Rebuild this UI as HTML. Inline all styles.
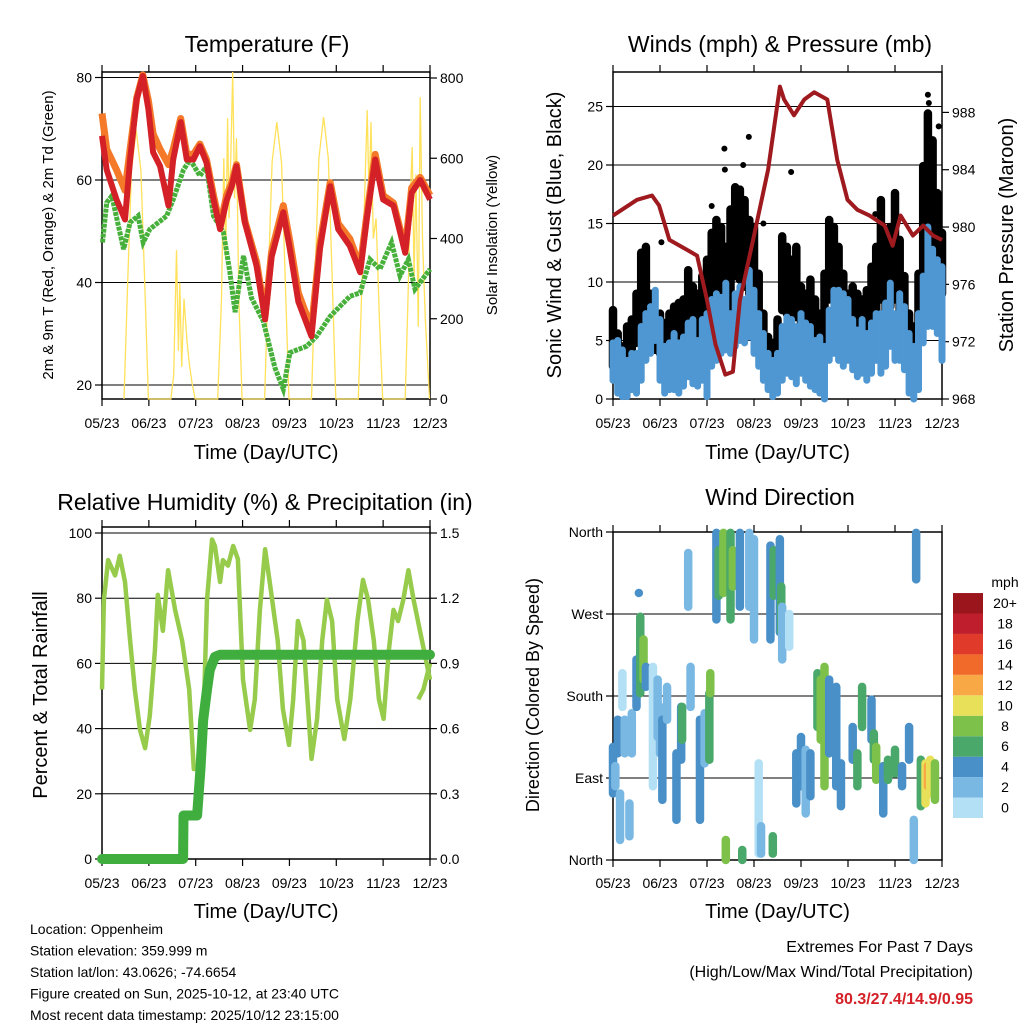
<!DOCTYPE html>
<html><head><meta charset="utf-8"><style>
html,body{margin:0;padding:0;background:#fff}
svg{display:block;font-family:"Liberation Sans",Arial,sans-serif}
</style></head><body>
<svg id="chart" xmlns="http://www.w3.org/2000/svg" width="1024" height="1024" viewBox="0 0 1024 1024"></svg>
<script>
// ---------- DATA ----------
const xTickLabels = ["05/23","06/23","07/23","08/23","09/23","10/23","11/23","12/23"];
// Temperature
const tempT = [0,0.1,0.31,0.49,0.6,0.74,0.87,0.99,1.09,1.24,1.42,1.52,1.68,1.81,1.95,2.09,2.23,2.38,2.52,2.66,2.77,2.87,3.05,3.3,3.48,3.62,3.87,4.01,4.19,4.47,4.65,4.87,5.04,5.29,5.51,5.65,5.83,6.0,6.22,6.47,6.61,6.79,7.0];
const redV = [68.6,62,56.2,52.3,64,75.8,80.3,73.8,65.4,62.7,55,64,71.3,64,64,66.6,63.4,56.2,50.4,56,58.8,62.7,51.7,43.2,32.8,45,53.7,46.5,36.3,29.5,46.5,58.8,50.4,47.1,42,52.3,64,56.2,55,45.8,57.5,60,56.2];
const orangeV = [73,66,62,58,66,76,80.5,75.5,69,66,63,66,72,65,65,67,64,57,51,57,59.5,63,52,44,33.5,46,55,48,38,31,47.5,59.5,51.5,48.5,43,53,65,57,55.5,46.5,58.5,60.5,57];
const dewT = [0.01,0.1,0.21,0.46,0.6,0.77,0.88,1.02,1.38,1.52,1.74,1.88,2.09,2.23,2.38,2.59,2.73,2.84,3.02,3.19,3.44,3.69,3.87,4.01,4.37,4.58,4.87,5.29,5.51,5.72,5.93,6.18,6.36,6.54,6.68,7.0];
const dewV = [47.8,55.6,56.9,46.5,51.7,53,47.8,50.4,53,56.2,62,64,60.8,62.7,53,49.8,42,34.2,45.2,37,32.5,23.4,19.2,26.3,27.6,29.5,33.4,37.3,38,44.5,42.6,47.8,41.3,44.5,38.7,42.6];
const solarT = [0.47,0.55,0.63,0.73,0.83,0.91,0.99, 1.47,1.53,1.59,1.63,1.66,1.7,1.75,1.81,1.86,1.92,1.99, 2.47,2.55,2.6,2.64,2.68,2.71,2.75,2.79,2.83,2.87,2.92,2.99, 3.47,3.55,3.63,3.73,3.83,3.91,3.99, 4.47,4.55,4.63,4.73,4.83,4.91,4.99, 5.47,5.55,5.62,5.66,5.7,5.74,5.79,5.85,5.92,5.99, 6.47,6.53,6.58,6.62,6.66,6.7,6.75,6.79,6.84,6.9,6.99];
const solarV = [0,300,570,670,570,300,0, 0,60,371,120,290,80,250,150,90,40,0, 0,250,600,350,700,450,613,815,500,650,250,0, 0,300,590,690,590,300,0, 0,310,600,703,600,310,0, 0,300,560,720,500,690,400,450,200,0, 0,250,500,628,300,560,180,752,400,200,0];
// Winds & pressure
const windT = [0,0.1,0.2,0.3,0.4,0.5,0.6,0.7,0.8,0.9,1,1.1,1.2,1.3,1.4,1.5,1.6,1.7,1.8,1.9,2,2.1,2.2,2.3,2.4,2.5,2.6,2.7,2.8,2.9,3,3.1,3.2,3.3,3.4,3.5,3.6,3.7,3.8,3.9,4,4.1,4.2,4.3,4.4,4.5,4.6,4.7,4.8,4.9,5,5.1,5.2,5.3,5.4,5.5,5.6,5.7,5.8,5.9,6,6.1,6.2,6.3,6.4,6.5,6.6,6.7,6.8,6.9,7];
const sonicHi = [4.8,5,4.2,3.3,3.9,3.9,6.2,7.3,7.9,9.3,6.8,4.5,4.8,5.6,4.8,5.3,6.5,6.8,5,6.8,7.3,8.5,9,8.7,9.9,7.3,9,9.6,8.5,11,9.3,7.3,5.6,3.9,3.3,3.9,6.2,7,6.8,6.2,7.3,6.5,6.2,5,5.3,4.5,7.6,9.3,9.3,9,8.5,6.8,5.9,6.8,5.6,6.5,7.3,7.3,8.2,9.9,7.3,9,7.9,5.6,4.5,7.3,10.5,14.7,12.8,11.9,11.3];
const sonicLo = [1.6,0.5,0.2,0.2,0.8,0.5,1.6,3.3,3.9,5,1.6,0.5,0.8,0.8,0.5,1.1,1.9,1.3,1.1,1.6,0.2,2.8,3.3,3.9,4.2,3.9,4.5,5,4.8,5.3,3.9,2.8,1.6,0.8,0.2,0.5,1.6,2.2,1.9,1.3,2.2,1.6,1.1,0.8,0.5,0,3.3,3.9,3.3,2.8,3.3,2.5,1.9,2.2,1.6,2.2,3.3,2.2,2.8,4.5,3.3,3.3,2.5,0.5,0,0.8,4.8,6.2,6.2,5.6,3.3];
const gustHi = [7.6,5.6,4.5,6.2,6.8,9,12.5,13,9,6.8,7.3,6.5,7.3,7.9,8.2,8.5,11,9.6,9,10.5,11.9,14.2,15.3,14.7,13,16.2,18.1,17.9,17,15.3,14.7,10.7,7.3,5.3,4.8,6.8,13.9,13,11.9,13,9.6,9,10.2,8.5,7.3,10.7,15.3,14.7,13,10.7,9,9.6,9,8.5,9.3,11.3,13,17,14.2,14.7,17.6,13.6,10.5,7.3,6.2,10.7,19.9,24.4,22.1,17.6,14.2];
const gustLo = [2.8,3.3,2.2,3.3,3.9,4.8,6.2,6.8,4.5,4.2,3.9,3.6,3.9,4.2,4.5,5,6.2,5.6,5.3,6.2,7.3,8.5,8.5,7.9,7.3,7.9,10.5,10.2,9.6,9,8.5,6.2,3.9,2.5,2.2,3.3,7.6,7.3,6.8,7,6.2,5.6,6.2,5,4.8,5,8.5,9,8.5,7.3,6.2,6.2,5.6,5.6,5.6,6.2,7.3,8.5,7.3,7.9,8.5,7.3,6.2,4.5,3.9,6.2,10.2,13,11.9,9.6,9];
const gustOutT = [2.89,2.37,2.38,2.77,3.79,6.7,6.93,6.72,1.03,5.58,3.2,2.1];
const gustOutV = [22.4,21.4,19.6,20,19.4,26,23.3,25.3,13.4,15.8,15,16.5];
const presT = [0,0.51,0.83,0.98,1.2,1.58,1.79,2.0,2.18,2.39,2.55,2.7,2.98,3.3,3.55,3.64,3.85,4.07,4.28,4.56,4.77,4.99,5.2,5.46,5.78,5.95,6.12,6.38,6.6,6.81,7.0];
const presV = [980.8,981.9,982.2,981.5,979.1,978.4,978,974.9,971.8,969.7,969.9,974.9,979.1,984,989.8,988.9,987.8,988.9,989.4,988.9,984.7,981.9,981.2,980.8,980.1,978.7,980.8,979.4,980.1,979.4,979.1];
// RH & precip
const rhT = [0,0.04,0.13,0.28,0.38,0.49,0.6,0.7,0.81,0.92,1.02,1.13,1.19,1.3,1.41,1.56,1.71,1.86,1.96,2.07,2.18,2.24,2.35,2.41,2.52,2.58,2.69,2.8,2.9,3.01,3.16,3.26,3.37,3.48,3.58,3.75,3.86,3.99,4.08,4.18,4.3,4.47,4.59,4.7,4.8,4.91,5.02,5.17,5.3,5.45,5.57,5.68,5.8,5.91,6.01,6.12,6.22,6.32,6.43,6.54,6.65,7.0];
const rhV = [52,79.5,91.7,87,93,85,67,52,39.6,34,44,64,81,70,88.6,76.4,67,52,27.6,27.6,49,79.5,98,96,85,91.7,90,96,92,55,39.6,49,76.4,95,85,67,46,35,49,73,67,30.7,43,67,79.5,73,49,36.8,49,73,85.6,79.5,67,49,43,64,76.4,73,79.5,88.6,79.5,55];
const rhT2 = [6.75,6.86,7.0];
const rhV2 = [49,52,60];
const precipT = [0,1.73,1.74,2.03,2.1,2.16,2.24,2.3,2.41,2.52,7.0];
const precipV = [0,0,0.2,0.2,0.41,0.64,0.78,0.87,0.93,0.94,0.94];
// Wind direction streaks: time, dir from, dir to, speed
const dirT = [0.0,0.05,0.1,0.15,0.2,0.25,0.35,0.4,0.5,0.58,0.65,0.7,0.55,0.85,0.95,1.0,1.05,1.15,1.35,1.45,1.47,1.6,1.65,1.85,1.95,2.05,2.07,2.2,2.25,2.35,2.4,2.5,2.55,2.7,2.75,2.9,3.0,3.1,3.15,3.4,3.35,3.42,3.55,3.58,3.6,3.75,3.9,4.0,4.1,4.2,4.35,4.42,4.5,4.6,4.75,4.85,5.1,5.2,5.3,5.5,5.55,5.6,5.75,5.85,6.0,6.15,6.3,6.4,6.45,6.55,6.65,6.7,6.75,6.85];
const dirA = [124,103,154,73,205,154,62,161,220,267,242,212,293,212,198,168,154,190,117,168,168,337,212,154,161,183,205,359,340,359,22,359,340,359,11,359,352,106,37,26,345,340,352,300,278,270,117,135,121,117,205,198,212,198,190,106,146,117,190,176,139,124,103,110,121,103,146,44,359,110,106,103,110,106];
const dirB = [73,81,117,22,168,117,26,117,168,183,198,190,293,81,135,117,66,154,44,110,132,278,168,44,106,110,183,264,290,293,0,264,300,278,0,278,242,7,7,7,242,290,250,250,220,234,62,81,51,70,146,132,81,117,81,59,110,81,146,132,110,88,51,88,95,81,110,0,308,59,62,81,73,66];
const dirS = [4,2,4,2,0,2,2,2,4,6,8,4,4,0,2,2,4,2,4,4,6,2,2,4,2,6,8,4,6,8,8,6,8,4,6,2,2,0,2,6,4,6,4,6,2,0,4,4,2,4,6,8,8,4,4,4,4,6,6,4,6,8,4,6,6,4,4,2,4,6,10,12,10,8];
const speedBins = ["0","2","4","6","8","10","12","14","16","18","20+"];
const speedColors = ["#b4e0f6","#7ab8e4","#4a90c8","#4aa86a","#7dc14b","#e9e05a","#f9a846","#f26a2a","#e03a2a","#bf1e2d","#9a151c"];
const tempTicks=[20,40,60,80], solarTicks=[0,200,400,600,800];
const windTicks=[0,5,10,15,20,25], presTicks=[968,972,976,980,984,988];
const rhTicks=[0,20,40,60,80,100], precipTicks=[0,0.3,0.6,0.9,1.2,1.5];
const dirTicks=[0,90,180,270,360], dirLabels=["North","East","South","West","North"];

// ---------- HELPERS ----------
const NS="http://www.w3.org/2000/svg";
const svg=document.getElementById('chart');
function mk(tag,attrs,parent){const e=document.createElementNS(NS,tag);for(const k in attrs)e.setAttribute(k,attrs[k]);(parent||svg).appendChild(e);return e;}
function txt(s,x,y,size,anchor,parent,extra){const e=mk('text',Object.assign({x:x,y:y,'font-size':size,'text-anchor':anchor||'middle',fill:'#000'},extra||{}),parent);e.textContent=s;return e;}
function linScale(d0,d1,r0,r1){return v=>r0+(v-d0)*(r1-r0)/(d1-d0);}
function pathOf(ts,vs,xs,ys){return ts.map((t,i)=>(i?'L':'M')+xs(t).toFixed(1)+','+ys(vs[i]).toFixed(1)).join('');}

function panel(name,x0,x1,y0,y1,xs,title,xTitleY,tickLabY){
  const g=mk('g',{});
  
  
  const b=mk('rect',{x:x0,y:y0,width:x1-x0,height:y1-y0,fill:'none',stroke:'#000','stroke-width':1.5},g);
  
  
  xTickLabels.forEach((l,i)=>{
    const x=xs(i);
    const tk=mk('path',{d:`M${x},${y1}v7M${x},${y0}v-7`,stroke:'#000','stroke-width':1.2},g);
    
    
    const t=txt(l,x,tickLabY,14,'middle',g);
    
    
  });
  const xt=txt('Time (Day/UTC)',(x0+x1)/2,xTitleY,20,'middle',g);
  
  
  const tt=txt(title.s,title.x,title.y,23,'middle',g);
  
  
  return g;
}
function grid(g,vals,ys,x0,x1){vals.forEach(v=>{const l=mk('line',{x1:x0,x2:x1,y1:ys(v),y2:ys(v),stroke:'#000','stroke-width':1},g);
  
  });}
function yAxis(g,vals,labels,ys,x,side){vals.forEach((v,i)=>{const y=ys(v);
  const tk=mk('line',{x1:x,x2:x+(side<0?-7:7),y1:y,y2:y,stroke:'#000','stroke-width':1.2},g);
  
  
  const t=txt(labels[i],x+(side<0?-10:10),y+5,14,side<0?'end':'start',g);
  
  });}
function vTitle(g,s,x,y,size,name){const t=txt(s,x,y,size,'middle',g,{transform:`rotate(-90 ${x} ${y})`});
  
  }

// ---------- PANEL 1: TEMPERATURE ----------
{
const x0=102,x1=430,y0=72,y1=399;
const xs=linScale(0,7,x0,x1), ys=linScale(20,80,385,77.5), ss=linScale(0,800,399,78);
const g=panel('temperature-panel',x0,x1,y0,y1,xs,{s:'Temperature (F)',x:267,y:52},459,428);
grid(g,tempTicks,ys,x0,x1);
yAxis(g,tempTicks,tempTicks.map(String),ys,x0,-1);
yAxis(g,solarTicks,solarTicks.map(String),ss,x1,1);
vTitle(g,'2m & 9m T (Red, Orange) & 2m Td (Green)',53,235,15,'left-axis-title');
vTitle(g,'Solar Insolation (Yellow)',497,235,15,'right-axis-title');
const sol=mk('path',{d:pathOf(solarT,solarV,xs,ss),fill:'none',stroke:'#ffe15a','stroke-width':1.3},g);


const dw=mk('path',{d:pathOf(dewT,dewV,xs,ys),fill:'none',stroke:'#46b03a','stroke-width':5,'stroke-dasharray':'4 1'},g);


const or=mk('path',{d:pathOf(tempT,orangeV,xs,ys),fill:'none',stroke:'#f47a2a','stroke-width':7,'stroke-linejoin':'round'},g);


const rd=mk('path',{d:pathOf(tempT,redV,xs,ys),fill:'none',stroke:'#d42027','stroke-width':6,'stroke-linejoin':'round'},g);


}

// ---------- PANEL 2: WINDS & PRESSURE ----------
{
const x0=613,x1=942,y0=72,y1=399;
const xs=linScale(0,7,x0,x1), ys=linScale(0,25,399,106.5), ps=linScale(968,988,399,112.4);
const g=panel('winds-panel',x0,x1,y0,y1,xs,{s:'Winds (mph) & Pressure (mb)',x:780,y:52},459,428);
grid(g,windTicks.slice(1),ys,x0,x1);
yAxis(g,windTicks,windTicks.map(String),ys,x0,-1);
yAxis(g,presTicks,presTicks.map(String),ps,x1,1);
vTitle(g,'Sonic Wind & Gust (Blue, Black)',561,235,20,'left-axis-title');
vTitle(g,'Station Pressure (Maroon)',1013,235,20,'right-axis-title');
windT.forEach((t,i)=>{
  const s=mk('line',{x1:xs(t),x2:xs(t),y1:ys(gustHi[i]),y2:ys(gustLo[i]),stroke:'#000','stroke-width':8.5,'stroke-linecap':'round'},g);
  
  
});
gustOutT.forEach((t,i)=>{
  const c=mk('circle',{cx:xs(t),cy:ys(gustOutV[i]),r:3,fill:'#000'},g);
  
  
});
windT.forEach((t,i)=>{
  const s=mk('line',{x1:xs(t),x2:xs(t),y1:ys(sonicHi[i]),y2:ys(sonicLo[i]),stroke:'#4f97d2','stroke-width':7,'stroke-linecap':'round'},g);
  
  
});
const pr=mk('path',{d:pathOf(presT,presV,xs,ps),fill:'none',stroke:'#9e1a1e','stroke-width':4,'stroke-linejoin':'round'},g);


}

// ---------- PANEL 3: RH & PRECIP ----------
{
const x0=102,x1=430,y0=527,y1=859;
const xs=linScale(0,7,x0,x1), ys=linScale(0,100,859,533), ps=linScale(0,1.5,859,533);
const g=panel('humidity-panel',x0,x1,y0,y1,xs,{s:'Relative Humidity (%) & Precipitation (in)',x:265,y:510},918,888);
grid(g,[20,40,60,80,100],ys,x0,x1);
yAxis(g,rhTicks,rhTicks.map(String),ys,x0,-1);
yAxis(g,precipTicks,precipTicks.map(v=>v.toFixed(1)),ps,x1,1);
vTitle(g,'Percent & Total Rainfall',47,695,20,'left-axis-title');
const rh=mk('path',{d:pathOf(rhT,rhV,xs,ys),fill:'none',stroke:'#97cb4c','stroke-width':4.5,'stroke-linejoin':'round'},g);


const rh2=mk('path',{d:pathOf(rhT2,rhV2,xs,ys),fill:'none',stroke:'#97cb4c','stroke-width':4.5,'stroke-linejoin':'round'},g);


const pc=mk('path',{d:pathOf(precipT,precipV,xs,ps),fill:'none',stroke:'#3fae3f','stroke-width':10,'stroke-linejoin':'round','stroke-linecap':'round'},g);


}

// ---------- PANEL 4: WIND DIRECTION ----------
{
const x0=613,x1=942,y0=532,y1=860;
const xs=linScale(0,7,x0,x1), ds=linScale(0,360,860,532);
const g=panel('wind-direction-panel',x0,x1,y0,y1,xs,{s:'Wind Direction',x:780,y:505},918,888);
grid(g,[90,180,270],ds,x0,x1);
yAxis(g,dirTicks,dirLabels,ds,x0,-1);
vTitle(g,'Direction (Colored By Speed)',539,695,18,'left-axis-title');
dirT.forEach((t,i)=>{
  const bin=Math.min(10,Math.floor(dirS[i]/2));
  const s=mk('line',{x1:xs(t),x2:xs(t),y1:ds(dirA[i]),y2:ds(dirB[i]),stroke:speedColors[bin],'stroke-width':8.5,'stroke-linecap':'round'},g);
  
  
});
const lg=mk('g',{},svg);


const mt=txt('mph',1005,587,14,'middle',lg);


speedBins.forEach((l,i)=>{
  const y=818-(i+1)*20.45;
  const r=mk('rect',{x:953,y:y,width:30,height:20.45,fill:speedColors[i]},lg);
  
  
  const t=txt(l,1005,y+15,14,'middle',lg);
  
  
});
}

// ---------- FOOTER ----------
{
const f=mk('g',{});


["Location: Oppenheim","Station elevation: 359.999 m","Station lat/lon: 43.0626; -74.6654","Figure created on Sun, 2025-10-12, at 23:40 UTC","Most recent data timestamp: 2025/10/12 23:15:00"].forEach((s,i)=>{
  const t=txt(s,30,934+i*21.5,14,'start',f);
  
  
});
const e=mk('g',{});


const e1=txt('Extremes For Past 7 Days',973,952,16,'end',e);


const e2=txt('(High/Low/Max Wind/Total Precipitation)',973,977,16,'end',e);


const e3=txt('80.3/27.4/14.9/0.95',973,1004,16,'end',e,{fill:'#d42027','font-weight':'bold'});


}
</script>
</body></html>
